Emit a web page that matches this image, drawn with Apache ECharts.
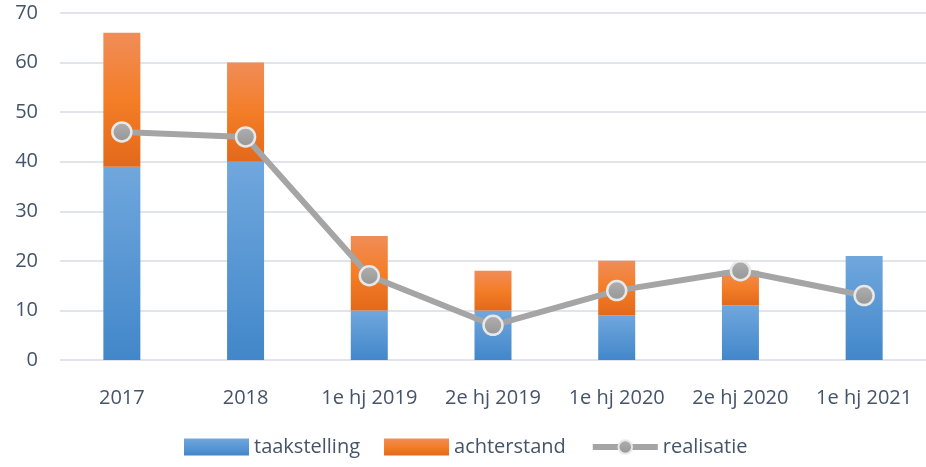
<!DOCTYPE html>
<html>
<head>
<meta charset="utf-8">
<script src="https://cdn.jsdelivr.net/npm/echarts@6/dist/echarts.min.js"></script>
<style>
  html, body { margin: 0; padding: 0; background: #fff; }
  #chart { width: 926px; height: 467px; }
</style>
</head>
<body>
<div id="chart"></div>
<script>
// categorieen en waarden
var categories = ['2017', '2018', '1e hj 2019', '2e hj 2019', '1e hj 2020', '2e hj 2020', '1e hj 2021'];
var taakstelling = [39, 40, 10, 10, 9, 11, 21];
var achterstand = [27, 20, 15, 8, 11, 7, 0];
var realisatie = [46, 45, 17, 7, 14, 18, 13];
var yTicks = [0, 10, 20, 30, 40, 50, 60, 70];

var textColor = '#44546a';
var font = 'Open Sans';

function grad(top, bottom) {
  return new echarts.graphic.LinearGradient(0, 0, 0, 1, [
    { offset: 0, color: top },
    { offset: 1, color: bottom }
  ]);
}

var blue = grad('#70a7dd', '#4287ca');
var orange = new echarts.graphic.LinearGradient(0, 0, 0, 1, [
  { offset: 0, color: '#f08d58' },
  { offset: 0.5, color: '#f47d27' },
  { offset: 1, color: '#e2691a' }
]);
var markerFill = grad('#b0b0b0', '#959595');

var chart = echarts.init(document.getElementById('chart'));
var option = {
  animation: false,
  textStyle: { fontFamily: font },
  grid: { left: 60, right: 0, top: 13, bottom: 107 },
  legend: {
    bottom: 5,
    left: 179,
    itemGap: 24,
    itemWidth: 65,
    itemHeight: 17,
    textStyle: { color: textColor, fontSize: 20, fontFamily: font },
    data: [
      { name: 'taakstelling', icon: 'rect' },
      { name: 'achterstand', icon: 'rect' },
      { name: 'realisatie', lineStyle: { width: 6, color: '#a5a5a5' } }
    ]
  },
  xAxis: {
    type: 'category',
    data: categories,
    axisLine: { show: false },
    axisTick: { show: false },
    axisLabel: { color: textColor, fontSize: 20, margin: 28, interval: 0, fontFamily: font }
  },
  yAxis: {
    type: 'value',
    min: yTicks[0],
    max: yTicks[yTicks.length - 1],
    interval: 10,
    axisLine: { show: false },
    axisTick: { show: false },
    axisLabel: { color: textColor, fontSize: 20, margin: 22, fontFamily: font },
    splitLine: { lineStyle: { color: '#e1e4ea', width: 2 } }
  },
  series: [
    {
      name: 'taakstelling',
      type: 'bar',
      stack: 'totaal',
      barWidth: 37,
      data: taakstelling,
      itemStyle: { color: blue }
    },
    {
      name: 'achterstand',
      type: 'bar',
      stack: 'totaal',
      barWidth: 37,
      data: achterstand,
      itemStyle: { color: orange }
    },
    {
      name: 'realisatie',
      type: 'line',
      data: realisatie,
      symbol: 'circle',
      symbolSize: 19,
      lineStyle: { color: '#a5a5a5', width: 6 },
      itemStyle: { color: markerFill, borderColor: '#e8e8e8', borderWidth: 2.5 },
      z: 5
    }
  ]
};
chart.setOption(option);
</script>
</body>
</html>
